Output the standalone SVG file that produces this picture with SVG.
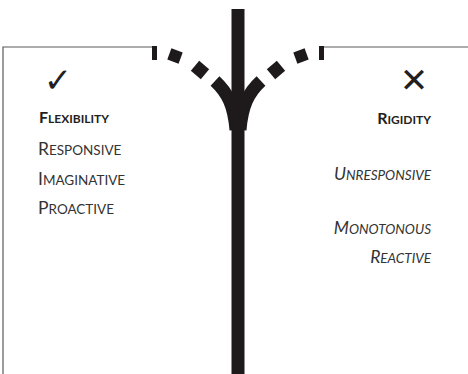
<svg xmlns="http://www.w3.org/2000/svg" width="468" height="374" viewBox="0 0 468 374">
<style>
.frame{fill:none;stroke:#5a5a5a;stroke-width:1.2}
.ink{fill:#1e1a1b}
.br{fill:none;stroke:#1e1a1b;stroke-width:13}
.lbl{font-family:Lato,"Open Sans","Liberation Sans",sans-serif;fill:#333;font-size:17.5px}
.sc{font-size:13.5px}
.hd{font-weight:bold;fill:#231f20;font-size:16px}
.hd .sc{font-size:12px}
.it{font-style:italic}
.mark{font-family:"DejaVu Sans",sans-serif;fill:#231f20}
</style>
<rect width="468" height="374" fill="#fff"/>
<g id="flexibility-panel">
<path class="frame" d="M3,374 V47 H152"/>
<text class="mark" x="58" y="92" font-size="34" text-anchor="middle">✓</text>
<text class="lbl hd" x="39" y="123">F<tspan class="sc">LEXIBILITY</tspan></text>
<text class="lbl" x="38" y="155">R<tspan class="sc">ESPONSIVE</tspan></text>
<text class="lbl" x="38" y="185">I<tspan class="sc">MAGINATIVE</tspan></text>
<text class="lbl" x="38" y="214">P<tspan class="sc">ROACTIVE</tspan></text>
</g>
<g id="rigidity-panel">
<path class="frame" d="M324,47 H468"/>
<text class="mark" x="414" y="92" font-size="34" font-weight="bold" text-anchor="middle">✕</text>
<text class="lbl hd" x="431" y="124" text-anchor="end">R<tspan class="sc">IGIDITY</tspan></text>
<text class="lbl it" x="431" y="180" text-anchor="end">U<tspan class="sc">NRESPONSIVE</tspan></text>
<text class="lbl it" x="431" y="234" text-anchor="end">M<tspan class="sc">ONOTONOUS</tspan></text>
<text class="lbl it" x="431" y="263" text-anchor="end">R<tspan class="sc">EACTIVE</tspan></text>
</g>
<g id="connectors">
<rect class="ink" x="231.5" y="9" width="13" height="365"/>
<rect class="ink" x="152" y="46" width="5" height="14"/>
<rect class="ink" x="169" y="50" width="12" height="12" transform="rotate(20 175 56)"/>
<rect class="ink" x="193.5" y="63.5" width="13" height="13" transform="rotate(40 200 70)"/>
<path class="br" d="M215,81 C228,93 234,106 236,130"/>
<rect class="ink" x="319" y="46" width="5" height="14"/>
<rect class="ink" x="295" y="50" width="12" height="12" transform="rotate(-20 301 56)"/>
<rect class="ink" x="269.5" y="63.5" width="13" height="13" transform="rotate(-40 276 70)"/>
<path class="br" d="M261,81 C248,93 242,106 240,130"/>
</g>
</svg>
